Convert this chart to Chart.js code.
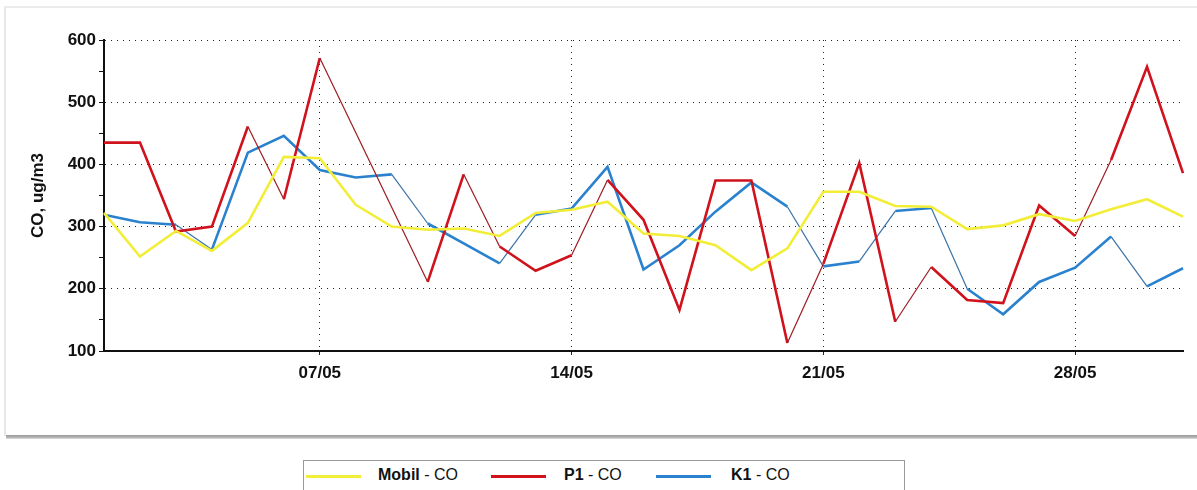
<!DOCTYPE html>
<html>
<head>
<meta charset="utf-8">
<script src="https://cdn.jsdelivr.net/npm/chart.js@4.4.0/dist/chart.umd.min.js"></script>
<style>
html,body{margin:0;padding:0;background:#fff;width:1197px;height:490px;overflow:hidden;font-family:"Liberation Sans",Arial,sans-serif;}
#frame{position:absolute;left:4px;top:6px;width:1193px;height:430px;border-left:2px solid #e8e8e8;border-top:2px solid #ececec;box-sizing:border-box;}
#shadow{position:absolute;left:6px;top:435px;width:1191px;height:4px;background:linear-gradient(#9a9a9a,#b4b4b4 60%,#e2e2e2);}
#wrap{position:absolute;left:0;top:0;width:1197px;height:436px;}
#legend{position:absolute;left:303px;top:460px;width:602px;height:34px;border:1px solid #9a9a9a;box-sizing:border-box;background:#fff;}
.sw{position:absolute;top:14px;height:3px;width:55px;}
.lbl{position:absolute;top:5px;font-size:16px;color:#111;white-space:nowrap;}
.lbl b{font-weight:bold;}
</style>
</head>
<body>
<div id="frame"></div>
<div id="shadow"></div>
<div id="wrap"><canvas id="c" width="1197" height="436"></canvas></div>
<div id="legend"></div>
<script>
// ---- data ----
const days = ['01/05','02/05','03/05','04/05','05/05','06/05','07/05','08/05','09/05','10/05',
              '11/05','12/05','13/05','14/05','15/05','16/05','17/05','18/05','19/05','20/05',
              '21/05','22/05','23/05','24/05','25/05','26/05','27/05','28/05','29/05','30/05','31/05'];
const tickLabels = ['07/05','14/05','21/05','28/05'];
const seriesNames = ['Mobil','P1','K1'];
const pollutant = 'CO';
const yTitle = 'CO, ug/m3';
const mobilCO = [322,252,293,261,306,412,410,335,300,295,297,285,322,327,340,289,285,270,230,265,356,356,333,332,296,302,320,309,328,344,316];
const p1CO    = [435,435,292,300,461,344,571,null,null,211,384,268,229,254,375,311,166,374,374,113,240,402,147,235,182,177,334,285,407,557,386];
const k1CO    = [319,307,303,263,419,446,391,379,384,305,273,241,319,329,396,231,270,324,371,332,236,244,325,330,200,159,211,234,284,204,233];
// days after which the record has a measurement gap (segment bridges missing data)
const mobilGaps = [];
const p1Gaps = ['05/05','11/05','14/05','20/05','23/05','28/05'];
const k1Gaps = ['03/05','09/05','12/05','20/05','22/05','24/05','29/05'];

// ---- styling ----
const colors = ['#f2ee38','#d0121c','#2a82cf'];
const thinColors = ['#e0dc30','#9e1a22','#3a72a6'];
const values = [mobilCO, p1CO, k1CO];
const gaps = [mobilGaps, p1Gaps, k1Gaps];
const font = {family:'"Liberation Sans", Arial, sans-serif', size:17, weight:'bold'};

function isThin(ctx, i){
  const j = ctx.p1DataIndex;
  if (j > 0 && values[i][j - 1] === null) return true;
  return gaps[i].includes(days[j - 1]);
}

const datasets = seriesNames.map((n,i)=>({
  label: n + ' - ' + pollutant,
  data: values[i],
  borderColor: colors[i],
  backgroundColor: colors[i],
  borderWidth: 2.6,
  pointRadius: 0,
  pointHoverRadius: 0,
  tension: 0,
  spanGaps: true,
  fill: false,
  segment: {
    borderWidth: ctx => isThin(ctx, i) ? 1.2 : 2.6,
    borderColor: ctx => isThin(ctx, i) ? thinColors[i] : colors[i]
  }
}));

const gridColX = c => (c.tick && tickLabels.includes(days[c.index])) ? '#222' : 'rgba(0,0,0,0)';
const gridColY = c => (c.tick && c.tick.value % 100 === 0 && c.tick.value > 100) ? '#222' : 'rgba(0,0,0,0)';

new Chart(document.getElementById('c'), {
  type: 'line',
  data: { labels: days, datasets },
  options: {
    responsive: false,
    animation: false,
    devicePixelRatio: 1,
    layout: { padding: { left: 0, right: 14, top: 40, bottom: 0 } },
    plugins: { legend: { display: false }, tooltip: { enabled: false }, title: { display: false } },
    scales: {
      x: {
        type: 'category',
        offset: false,
        afterFit: s => { s.height = 85; },
        ticks: {
          autoSkip: false, maxRotation: 0, minRotation: 0,
          callback: (v, i) => tickLabels.includes(days[i]) ? days[i] : '',
          color: '#111', font, padding: 8
        },
        grid: { color: gridColX, tickColor: gridColX, tickLength: 4, lineWidth: 1, drawOnChartArea: true },
        border: { color: '#111', width: 2, dash: [1,5] }
      },
      y: {
        min: 100, max: 600,
        afterFit: s => { s.width = 104; },
        ticks: {
          stepSize: 50, autoSkip: false,
          callback: v => (v % 100 === 0 ? v : ''),
          color: '#111', font, padding: 3
        },
        grid: { color: gridColY, tickColor: '#111', tickLength: 5, lineWidth: 1 },
        border: { color: '#111', width: 2, dash: [1,5] },
        title: {
          display: true, text: yTitle, color: '#111',
          font: {family:'"Liberation Sans", Arial, sans-serif', size:17, weight:'bold'},
          padding: { top: 28, bottom: 0 }
        }
      }
    }
  }
});

// ---- HTML legend built from the series ----
const legend = document.getElementById('legend');
const swX = [2, 187, 352];
const txX = [74, 260, 427];
seriesNames.forEach((n,i)=>{
  const sw = document.createElement('div');
  sw.className = 'sw'; sw.style.left = swX[i] + 'px'; sw.style.background = colors[i];
  legend.appendChild(sw);
  const t = document.createElement('div');
  t.className = 'lbl'; t.style.left = txX[i] + 'px';
  const b = document.createElement('b'); b.textContent = n;
  t.appendChild(b); t.appendChild(document.createTextNode(' - ' + pollutant));
  legend.appendChild(t);
});
</script>
</body>
</html>
